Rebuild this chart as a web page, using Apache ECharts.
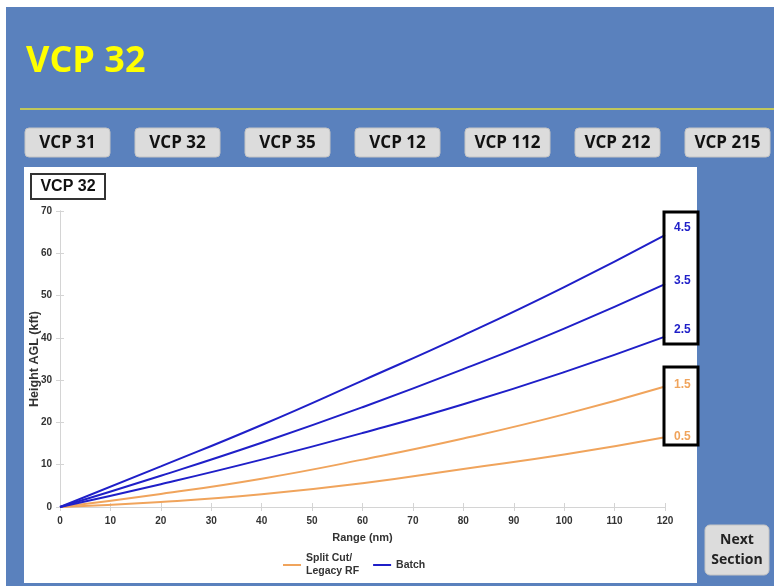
<!DOCTYPE html>
<html>
<head>
<meta charset="utf-8">
<script src="https://cdn.jsdelivr.net/npm/echarts@6/dist/echarts.min.js"></script>
<style>
  html, body { margin: 0; padding: 0; background: #fff; }
  #main { width: 774px; height: 586px; }
</style>
</head>
<body>
<div id="main"></div>
<script>
// range (nm) sample points
const ranges = [0, 20, 40, 60, 80, 100, 120];
// beam heights (kft)
const elev45 = [0, 9.6, 19.4, 29.9, 40.6, 52.0, 64.3];
const elev35 = [0, 7.4, 15.2, 23.6, 32.6, 42.2, 52.7];
const elev25 = [0, 5.4, 11.2, 17.5, 24.3, 31.9, 40.3];
const elev15 = [0, 3.1, 6.7, 11.2, 16.2, 21.9, 28.5];
const elev05 = [0, 1.2, 3.0, 5.6, 9.0, 12.4, 16.5];
const buttons = ["VCP 31", "VCP 32", "VCP 35", "VCP 12", "VCP 112", "VCP 212", "VCP 215"];

const BLUE = "#1f1fc8";
const ORANGE = "#f0a45c";
const BATCH = "Batch";
const SPLIT = "Split Cut/\nLegacy RF";

const pairs = (ys) => ranges.map((r, i) => [r, ys[i]]);

function beam(name, ys, color, label, offY) {
  return {
    name,
    type: "line",
    data: pairs(ys),
    smooth: true,
    showSymbol: false,
    lineStyle: { color, width: 2 },
    itemStyle: { color },
    endLabel: {
      show: true,
      formatter: label,
      color,
      fontSize: 12,
      fontWeight: "bold",
      fontFamily: "Liberation Sans",
      distance: 9,
      offset: [0, offY],
    },
    z: 3,
  };
}

const chart = echarts.init(document.getElementById("main"));

const chrome = [
  { type: "rect", shape: { x: 6, y: 7, width: 768, height: 579 }, style: { fill: "#5a81bd" }, z: -10 },
  { type: "text", x: 26, y: 44, style: { text: "VCP 32", fill: "#ffff00", font: "bold 36px 'Open Sans'" }, z: -5 },
  { type: "line", shape: { x1: 20, y1: 109, x2: 774, y2: 109 }, style: { stroke: "#e3df3c", lineWidth: 1.5 }, z: -5 },
  { type: "rect", shape: { x: 24, y: 167, width: 673, height: 416 }, style: { fill: "#fff" }, z: -8 },
  { type: "rect", shape: { x: 31, y: 174, width: 74, height: 25 }, style: { fill: "#fff", stroke: "#333", lineWidth: 2 }, z: -4 },
  { type: "text", x: 68, y: 187, style: { text: "VCP 32", fill: "#111", font: "bold 16px 'Liberation Sans'", align: "center", verticalAlign: "middle" }, z: -3 },
  // annotation boxes around the end labels
  { type: "rect", shape: { x: 664, y: 212, width: 34, height: 132 }, style: { fill: "none", stroke: "#000", lineWidth: 3 }, z: 5 },
  { type: "rect", shape: { x: 664, y: 367, width: 34, height: 78 }, style: { fill: "none", stroke: "#000", lineWidth: 3 }, z: 5 },
  // next section button
  { type: "rect", shape: { x: 705, y: 525, width: 64, height: 50, r: 5 }, style: { fill: "#dcdcdc", stroke: "#c4c4c4", lineWidth: 1 }, z: -4 },
  { type: "text", x: 737, y: 550, style: { text: "Next\nSection", fill: "#222", font: "bold 14px 'Open Sans'", align: "center", verticalAlign: "middle", lineHeight: 20 }, z: -3 },
];

buttons.forEach((b, i) => {
  const x = 25 + i * 110;
  chrome.push({ type: "rect", shape: { x, y: 128, width: 85, height: 29, r: 4 }, style: { fill: "#dcdcdc", stroke: "#c4c4c4", lineWidth: 1 }, z: -4 });
  chrome.push({ type: "text", x: x + 42.5, y: 143, style: { text: b, fill: "#111", font: "bold 17px 'Open Sans'", align: "center", verticalAlign: "middle" }, z: -3 });
});

const tickLabel = { color: "#333", fontSize: 10, fontWeight: "bold", fontFamily: "Liberation Sans" };
const frame = { show: true, lineStyle: { color: "#d4d4d4", width: 1 } };
const inTick = { show: true, inside: true, length: 4, lineStyle: { color: "#d4d4d4" } };

const option = {
  animation: false,
  backgroundColor: "transparent",
  graphic: chrome,
  grid: { left: 60, right: 109, top: 211, bottom: 79, show: false },
  legend: {
    data: [SPLIT, BATCH],
    left: 278,
    top: 547,
    icon: "rect",
    itemWidth: 18,
    itemHeight: 2,
    itemGap: 14,
    textStyle: { color: "#333", fontSize: 10.5, fontWeight: "bold", fontFamily: "Liberation Sans", lineHeight: 13 },
  },
  xAxis: [
    {
      type: "value", min: 0, max: 120, interval: 10,
      name: "Range (nm)", nameLocation: "middle", nameGap: 25,
      nameTextStyle: Object.assign({}, tickLabel, { fontSize: 11 }),
      axisLine: frame, axisTick: inTick, splitLine: { show: false },
      axisLabel: Object.assign({ margin: 9 }, tickLabel),
    },
    {
      type: "value", min: 0, max: 120, interval: 10, position: "top",
      axisLine: frame, axisTick: inTick, splitLine: { show: false }, axisLabel: { show: false },
    },
  ],
  yAxis: [
    {
      type: "value", min: 0, max: 70, interval: 10,
      name: "Height AGL (kft)", nameLocation: "middle", nameGap: 19, nameMoveOverlap: false,
      nameTextStyle: Object.assign({}, tickLabel, { fontSize: 12.5 }),
      axisLine: frame, axisTick: inTick, splitLine: { show: false },
      axisLabel: Object.assign({ margin: 8 }, tickLabel),
    },
    {
      type: "value", min: 0, max: 70, interval: 10, position: "right",
      axisLine: frame, axisTick: inTick, splitLine: { show: false }, axisLabel: { show: false },
    },
  ],
  series: [
    beam(SPLIT, elev05, ORANGE, "0.5", -1),
    beam(SPLIT, elev15, ORANGE, "1.5", -2),
    beam(BATCH, elev25, BLUE, "2.5", -7),
    beam(BATCH, elev35, BLUE, "3.5", -3),
    beam(BATCH, elev45, BLUE, "4.5", -7),
  ],
};

chart.setOption(option);
</script>
</body>
</html>
